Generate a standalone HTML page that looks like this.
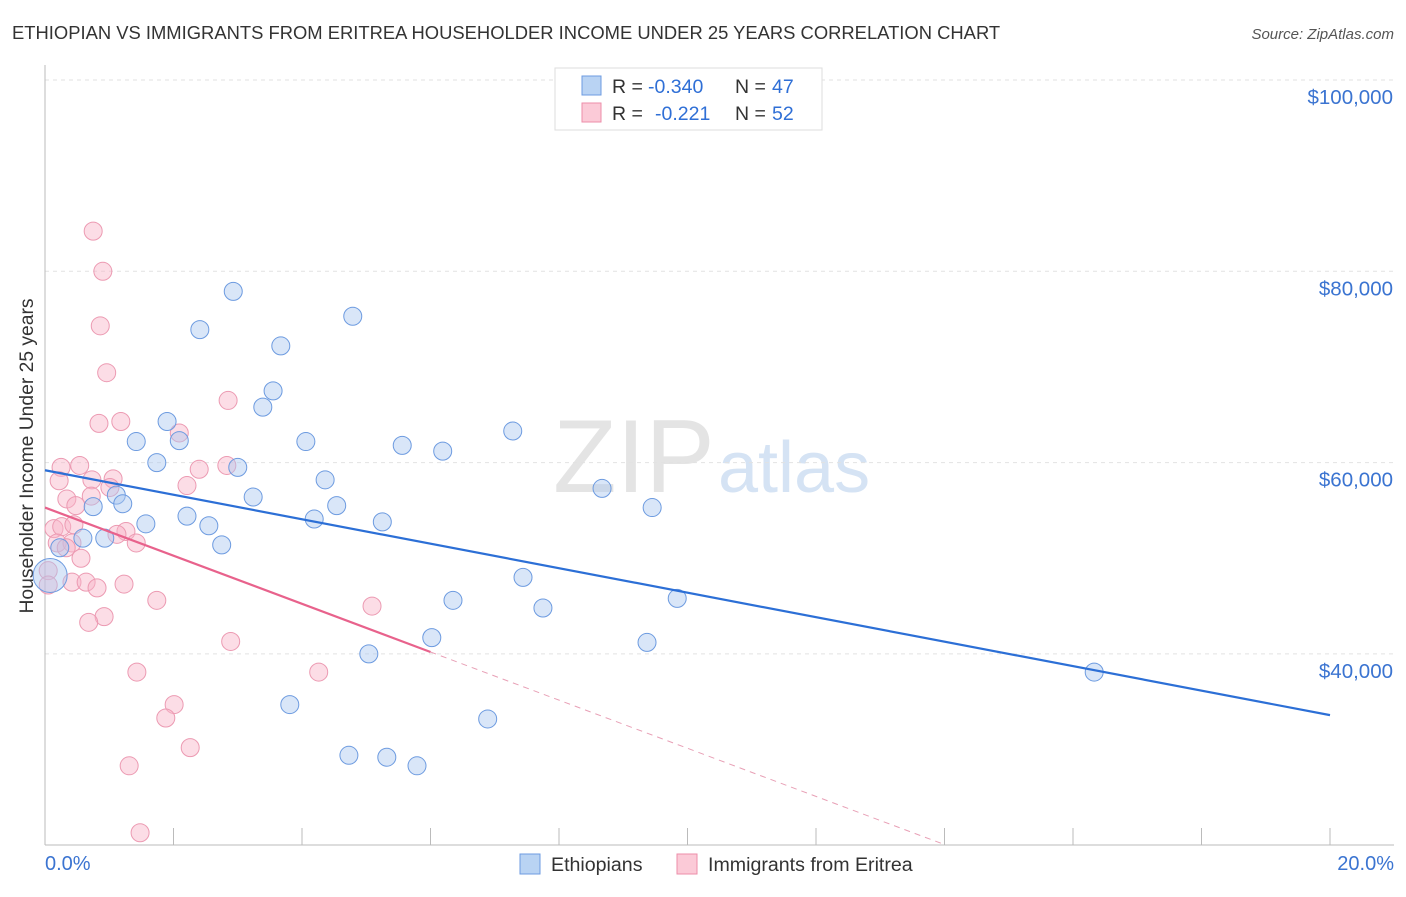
<!DOCTYPE html>
<html><head><meta charset="utf-8"><style>
body{margin:0;background:#fff;font-family:"Liberation Sans",sans-serif}
svg text{font-family:"Liberation Sans",sans-serif}
</style></head><body>
<svg id="c" width="1406" height="892">
<text x="12" y="39" font-size="18.4" fill="#333">ETHIOPIAN VS IMMIGRANTS FROM ERITREA HOUSEHOLDER INCOME UNDER 25 YEARS CORRELATION CHART</text>
<text x="1394" y="39" font-size="15" fill="#555" font-style="italic" text-anchor="end">Source: ZipAtlas.com</text>
<text x="0" y="0" transform="translate(33,456) rotate(-90)" font-size="19.3" fill="#333" text-anchor="middle">Householder Income Under 25 years</text>
<g><text x="553" y="492" font-size="104" fill="#e4e4e4" font-family="Liberation Serif">ZIP</text><text x="718" y="492" font-size="72" fill="#d5e3f4">atlas</text></g>
<g id="grid"></g><g id="pts"></g><g id="lines"></g>
<g>
<rect x="555" y="68" width="267" height="62" fill="#fff" stroke="#ddd"/>
<rect x="582" y="76" width="19" height="19" fill="#b9d3f3" stroke="#6d9be0"/>
<rect x="582" y="103" width="19" height="19" fill="#fbcad7" stroke="#ec8eaa"/>
<text x="612" y="93" font-size="19.5" fill="#333">R =</text>
<text x="648" y="93" font-size="19.5" fill="#2f6fd6">-0.340</text>
<text x="735" y="93" font-size="19.5" fill="#333">N =</text>
<text x="772" y="93" font-size="19.5" fill="#2f6fd6">47</text>
<text x="612" y="120" font-size="19.5" fill="#333">R =</text>
<text x="655" y="120" font-size="19.5" fill="#2f6fd6">-0.221</text>
<text x="735" y="120" font-size="19.5" fill="#333">N =</text>
<text x="772" y="120" font-size="19.5" fill="#2f6fd6">52</text>
</g>
<g>
<rect x="520" y="854" width="20" height="20" fill="#b9d3f3" stroke="#6d9be0"/>
<text x="551" y="871" font-size="19.6" fill="#333">Ethiopians</text>
<rect x="677" y="854" width="20" height="20" fill="#fbcad7" stroke="#ec8eaa"/>
<text x="708" y="871" font-size="19.6" fill="#333">Immigrants from Eritrea</text>
</g>
</svg>
<script>
const yTicks=[40000,60000,80000,100000];
const yTickLabels=["$40,000","$60,000","$80,000","$100,000"];
const xTickLabels=["0.0%","20.0%"];
const blueX=[2.93,2.41,4.79,3.67,3.55,3.39,1.90,1.42,2.09,4.06,5.56,6.19,7.28,1.74,3.00,4.36,8.67,3.24,1.11,0.75,1.21,4.54,9.45,2.21,1.57,4.19,5.25,2.55,0.93,0.59,2.75,0.23,0.08,7.44,6.35,7.75,9.84,6.02,9.37,5.04,16.33,3.81,6.89,4.73,5.32,5.79];
const blueY=[77.9,73.9,75.3,72.2,67.5,65.8,64.3,62.2,62.3,62.2,61.8,61.2,63.3,60.0,59.5,58.2,57.3,56.4,56.6,55.4,55.7,55.5,55.3,54.4,53.6,54.1,53.8,53.4,52.1,52.1,51.4,51.1,48.2,48.0,45.6,44.8,45.8,41.7,41.2,40.0,38.1,34.7,33.2,29.4,29.2,28.3];
const pinkX=[0.75,0.90,0.86,0.96,2.85,1.18,0.84,2.09,0.25,0.54,2.40,2.83,0.22,0.73,1.06,1.01,2.21,0.34,0.72,0.48,0.14,0.26,0.45,1.26,1.12,0.19,0.42,0.33,1.42,0.56,0.05,0.05,0.42,0.64,0.81,1.23,1.74,0.92,0.68,5.09,2.89,1.43,4.26,2.01,1.88,2.26,1.31,1.48];
const pinkY=[84.2,80.0,74.3,69.4,66.5,64.3,64.1,63.1,59.5,59.7,59.3,59.7,58.1,58.2,58.3,57.4,57.6,56.2,56.5,55.5,53.1,53.3,53.5,52.8,52.5,51.6,51.6,51.1,51.6,50.0,48.7,47.2,47.5,47.5,46.9,47.3,45.6,43.9,43.3,45.0,41.3,38.1,38.1,34.7,33.3,30.2,28.3,21.3];
const blueTrend=[59.2,33.6];
const pinkTrend=[55.3,40.2,6.0,14.0];
const NS="http://www.w3.org/2000/svg";
const X=p=>45+p*64.25;
const Y=v=>80+(100000-v)*191.3/20000;
function mk(t,a,parent){const e=document.createElementNS(NS,t);for(const k in a)e.setAttribute(k,a[k]);parent.appendChild(e);return e;}
const grid=document.getElementById('grid');
yTicks.forEach((v,i)=>{
 const l=mk('line',{x1:45,x2:1394,y1:Y(v),y2:Y(v),stroke:'#e2e2e2','stroke-dasharray':'4,4'},grid);
 
 
 const t=mk('text',{x:1393,y:Y(v)+24,'font-size':20.5,fill:'#3b74d1','text-anchor':'end'},grid);t.textContent=yTickLabels[i];
 
 
});
const ax=mk('line',{x1:45,x2:45,y1:65,y2:845,stroke:'#bbb'},grid);


const bx=mk('line',{x1:45,x2:1394,y1:845,y2:845,stroke:'#bbb'},grid);


for(let i=0;i<=10;i++){const t=mk('line',{x1:X(i*2),x2:X(i*2),y1:828,y2:845,stroke:'#bbb'},grid);
 
 }
const xl0=mk('text',{x:45,y:870,'font-size':20,fill:'#3b74d1'},grid);xl0.textContent=xTickLabels[0];


const xl1=mk('text',{x:1394,y:870,'font-size':20,fill:'#3b74d1','text-anchor':'end'},grid);xl1.textContent=xTickLabels[1];


const pts=document.getElementById('pts');
pinkX.forEach((x,i)=>{const c=mk('circle',{cx:X(x),cy:Y(pinkY[i]*1000),r:9,fill:'rgba(248,180,200,0.45)',stroke:'#ec9ab2','stroke-width':1},pts);
 
 });
blueX.forEach((x,i)=>{const r=i==32?17:9;const c=mk('circle',{cx:X(x),cy:Y(blueY[i]*1000),r:r,fill:'rgba(170,200,240,0.45)',stroke:'#6d9be0','stroke-width':1},pts);
 
 });
const lines=document.getElementById('lines');
const bl=mk('line',{x1:X(0),y1:Y(blueTrend[0]*1000),x2:X(20),y2:Y(blueTrend[1]*1000),stroke:'#2c6fd6','stroke-width':2.2},lines);


const slope=(pinkTrend[1]-pinkTrend[0])/pinkTrend[2];
const pl=mk('line',{x1:X(0),y1:Y(pinkTrend[0]*1000),x2:X(pinkTrend[2]),y2:Y(pinkTrend[1]*1000),stroke:'#e8628c','stroke-width':2.2},lines);


const pd=mk('line',{x1:X(pinkTrend[2]),y1:Y(pinkTrend[1]*1000),x2:X(pinkTrend[3]),y2:Y((pinkTrend[0]+slope*pinkTrend[3])*1000),stroke:'#e8a0b6','stroke-width':1,'stroke-dasharray':'6,5'},lines);


</script>
</body></html>
